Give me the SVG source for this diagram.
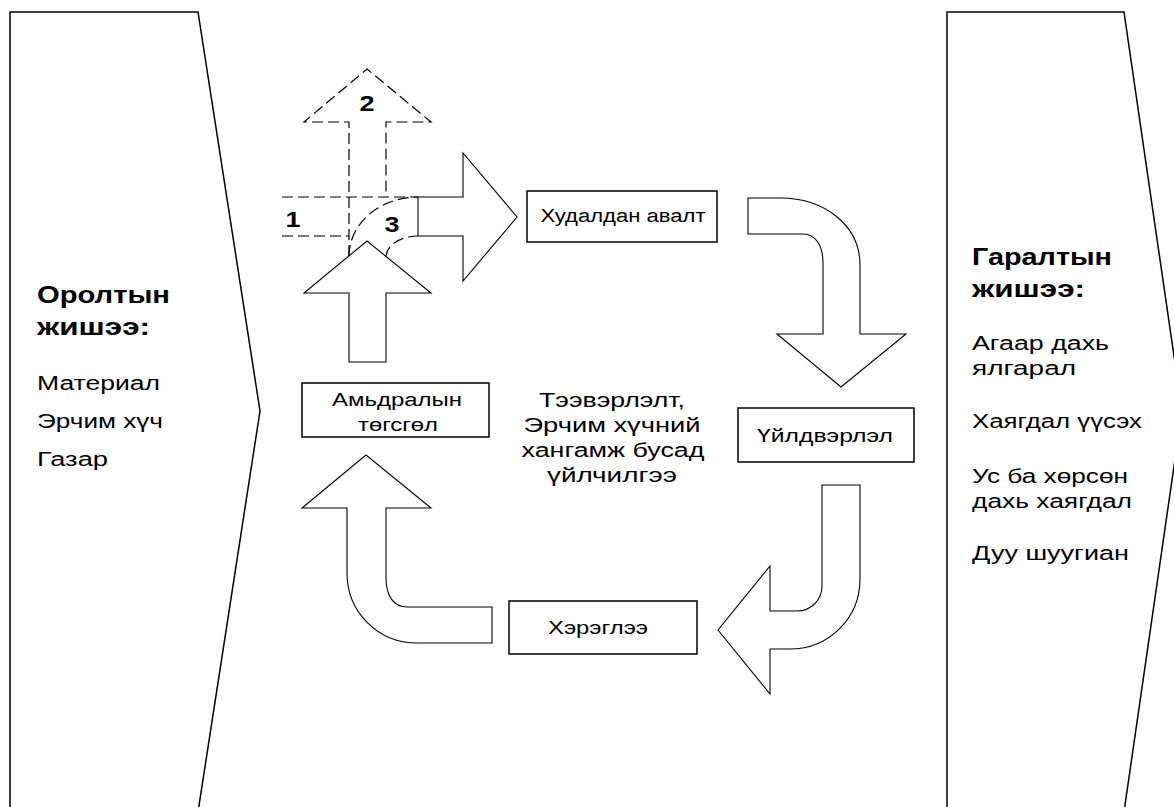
<svg xmlns="http://www.w3.org/2000/svg" width="1174" height="807" viewBox="0 0 1174 807">
<style>
.panel{fill:#fff;stroke:#000;stroke-width:1.5}
.box{fill:#fff;stroke:#000;stroke-width:1.5}
.arr{fill:#fff;stroke:#000;stroke-width:1.1;stroke-linejoin:miter}
.dash{fill:none;stroke:#000;stroke-width:1.2;stroke-dasharray:11 5}
text{font-family:"Liberation Sans",Arial,sans-serif;fill:#000}
.t{font-size:20px}
.b{font-size:23px;font-weight:bold}
.bx{font-size:18px}
.n{font-size:22px;font-weight:bold}
</style>
<rect width="1174" height="807" fill="#fff"/>
<g id="input-panel">
<path class="panel" d="M10,809 V12 H198 L260,411 L198,812"/>
<text class="b" x="37" y="303" textLength="133" lengthAdjust="spacingAndGlyphs">Оролтын</text>
<text class="b" x="37" y="335" textLength="113" lengthAdjust="spacingAndGlyphs">жишээ:</text>
<text class="t" x="37" y="390" textLength="123" lengthAdjust="spacingAndGlyphs">Материал</text>
<text class="t" x="37" y="428" textLength="126" lengthAdjust="spacingAndGlyphs">Эрчим хүч</text>
<text class="t" x="37" y="466" textLength="71" lengthAdjust="spacingAndGlyphs">Газар</text>
</g>
<g id="output-panel">
<path class="panel" d="M947,809 V12 H1124 L1182,411 L1124,812"/>
<text class="b" x="972" y="265" textLength="140" lengthAdjust="spacingAndGlyphs">Гаралтын</text>
<text class="b" x="972" y="297" textLength="113" lengthAdjust="spacingAndGlyphs">жишээ:</text>
<text class="t" x="972" y="350" textLength="137" lengthAdjust="spacingAndGlyphs">Агаар дахь</text>
<text class="t" x="972" y="375" textLength="104" lengthAdjust="spacingAndGlyphs">ялгарал</text>
<text class="t" x="972" y="428" textLength="170" lengthAdjust="spacingAndGlyphs">Хаягдал үүсэх</text>
<text class="t" x="972" y="483" textLength="156" lengthAdjust="spacingAndGlyphs">Ус ба хөрсөн</text>
<text class="t" x="972" y="508" textLength="160" lengthAdjust="spacingAndGlyphs">дахь хаягдал</text>
<text class="t" x="972" y="560" textLength="157" lengthAdjust="spacingAndGlyphs">Дуу шуугиан</text>
</g>
<g id="connectors">
<path class="dash" d="M349,256 V122 H304 L367,69 L431,122 H386 V197"/>
<path class="dash" d="M282,197 H418 M282,236 H349"/>
<path class="dash" d="M349,256 A69,59 0 0 1 418,197"/>
<path class="dash" d="M386,257 A32,21 0 0 1 418,236"/>
<path class="arr" d="M418,197 H463 V153 L517,217 L463,281 V236 H418 Z"/>
<path class="arr" d="M349,362 V293 H304 L367,241 L431,293 H386 V362 Z"/>
<path class="arr" d="M748,198 H780 C824,198 860,225 860,265 V334 H906 L841,387 L777,334 H823 V263 C823,245 815,234 803,234 H748 Z"/>
<path class="arr" d="M822,485 H860 V579 C860,618 829,649 790,649 H770 V694 L718,630 L770,566 V611 H797 C811,611 822,600 822,586 Z"/>
<path class="arr" d="M492,607 H407 C393,607 386,595 386,578 V508 H431 L366,455 L302,508 H347 V573 C347,612 378,643 417,643 H492 Z"/>
<text class="n" x="367" y="111" text-anchor="middle" textLength="15" lengthAdjust="spacingAndGlyphs">2</text>
<text class="n" x="293" y="227" text-anchor="middle" textLength="15" lengthAdjust="spacingAndGlyphs">1</text>
<text class="n" x="392" y="232" text-anchor="middle" textLength="15" lengthAdjust="spacingAndGlyphs">3</text>
</g>
<g id="purchase">
<rect class="box" x="527" y="191" width="190" height="51"/>
<text class="bx" x="623" y="222" text-anchor="middle" textLength="165" lengthAdjust="spacingAndGlyphs">Худалдан авалт</text>
</g>
<g id="production">
<rect class="box" x="738" y="408" width="176" height="54"/>
<text class="bx" x="825" y="442" text-anchor="middle" textLength="136" lengthAdjust="spacingAndGlyphs">Үйлдвэрлэл</text>
</g>
<g id="use">
<rect class="box" x="509" y="601" width="188" height="53"/>
<text class="bx" x="598" y="634" text-anchor="middle" textLength="100" lengthAdjust="spacingAndGlyphs">Хэрэглээ</text>
</g>
<g id="end-of-life">
<rect class="box" x="302" y="383" width="187" height="54"/>
<text class="bx" x="397" y="406" text-anchor="middle" textLength="130" lengthAdjust="spacingAndGlyphs">Амьдралын</text>
<text class="bx" x="398" y="431" text-anchor="middle" textLength="80" lengthAdjust="spacingAndGlyphs">төгсгөл</text>
</g>
<g id="services">
<text class="t" x="612" y="407" text-anchor="middle" textLength="146" lengthAdjust="spacingAndGlyphs">Тээвэрлэлт,</text>
<text class="t" x="612" y="432" text-anchor="middle" textLength="177" lengthAdjust="spacingAndGlyphs">Эрчим хүчний</text>
<text class="t" x="613" y="457" text-anchor="middle" textLength="183" lengthAdjust="spacingAndGlyphs">хангамж бусад</text>
<text class="t" x="612" y="482" text-anchor="middle" textLength="130" lengthAdjust="spacingAndGlyphs">үйлчилгээ</text>
</g>
</svg>
